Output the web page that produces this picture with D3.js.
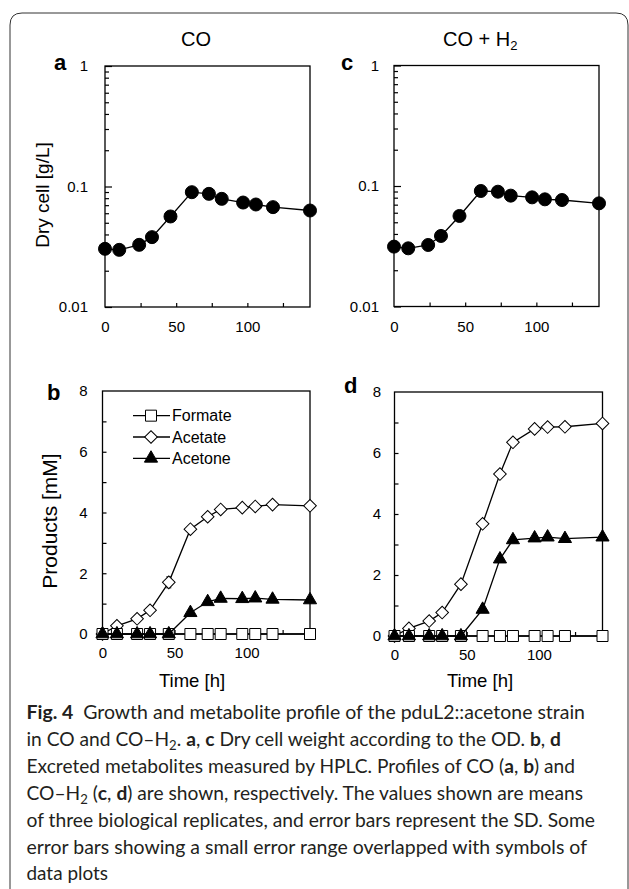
<!DOCTYPE html>
<html>
<head>
<meta charset="utf-8">
<script src="https://cdn.jsdelivr.net/npm/d3@7"></script>
<style>
  body { margin: 0; background: #fff; }
  svg { display: block; }
</style>
</head>
<body>
<svg id="fig" width="629" height="889"></svg>
<script>
// ---- data ----
const times = [0, 10, 24, 33, 46, 61, 73, 82, 97, 106, 118, 144];

const dryCellCO   = [0.0304, 0.0298, 0.0328, 0.038, 0.0564, 0.0897, 0.0869, 0.079, 0.0736, 0.0709, 0.0674, 0.0632];
const dryCellCOH2 = [0.0314, 0.0304, 0.0324, 0.0385, 0.0564, 0.0909, 0.0897, 0.0832, 0.0805, 0.0775, 0.0765, 0.0718];

const formateCO = [0, 0, 0, 0, 0, 0, 0, 0, 0, 0, 0, 0];
const acetateCO = [0, 0.27, 0.5, 0.78, 1.7, 3.45, 3.86, 4.1, 4.16, 4.2, 4.26, 4.22];
const acetoneCO = [0, 0, 0, 0, 0, 0.7, 1.06, 1.17, 1.16, 1.18, 1.14, 1.12];
const acetateErrCO = [0, 0.03, 0.05, 0.06, 0.18, 0.1, 0.08, 0.06, 0.05, 0.05, 0.06, 0.05];
const acetoneErrCO = [0, 0, 0, 0, 0, 0.05, 0.06, 0.05, 0.04, 0.05, 0.04, 0.05];

const formateCOH2 = [0, 0, 0, 0, 0, 0, 0, 0, 0, 0, 0, 0];
const acetateCOH2 = [0, 0.25, 0.49, 0.77, 1.7, 3.68, 5.31, 6.35, 6.79, 6.85, 6.86, 6.97];
const acetoneCOH2 = [0, 0, 0, 0, 0, 0.87, 2.52, 3.15, 3.21, 3.24, 3.19, 3.24];
const acetateErrCOH2 = [0, 0.03, 0.04, 0.05, 0.08, 0.1, 0.1, 0.08, 0.06, 0.06, 0.05, 0.06];
const acetoneErrCOH2 = [0, 0, 0, 0, 0, 0.06, 0.08, 0.06, 0.05, 0.05, 0.05, 0.05];

const timeTicks = [0, 50, 100];
const timeMinorTicks = [25, 50, 75, 100, 125];
const logTicks = [0.01, 0.1, 1];
const logTickLabels = ["0.01", "0.1", "1"];
const productTicks = [0, 2, 4, 6, 8];
const productMinorTicks = [1, 2, 3, 4, 5, 6, 7];
const legendNames = ["Formate", "Acetate", "Acetone"];

const captionLines = [
  [["Fig. 4", "b"], ["\u2002Growth and metabolite profile of the pduL2::acetone strain", ""]],
  [["in CO and CO\u2013H", ""], ["2", "sub"], [". ", ""], ["a", "b"], [", ", ""], ["c", "b"],
   [" Dry cell weight according to the OD. ", ""], ["b", "b"], [", ", ""], ["d", "b"]],
  [["Excreted metabolites measured by HPLC. Profiles of CO (", ""], ["a", "b"], [", ", ""], ["b", "b"], [") and", ""]],
  [["CO\u2013H", ""], ["2", "sub"], [" (", ""], ["c", "b"], [", ", ""], ["d", "b"],
   [") are shown, respectively. The values shown are means", ""]],
  [["of three biological replicates, and error bars represent the SD. Some", ""]],
  [["error bars showing a small error range overlapped with symbols of", ""]],
  [["data plots", ""]]
];
const captionEnds = [585, 561, 575, 583, 595, 587, 108];

// ---- drawing ----
const svg = d3.select("#fig");
const chartFont = "'Liberation Sans', Arial, sans-serif";

// frame
svg.append("path")
  .attr("d", "M10,889 V25 Q10,13 22,13 H616 Q628,13 628,25 V889")
  .attr("fill", "none")
  .attr("stroke", "#333")
  .attr("stroke-width", 1);

// scales
const xA = d3.scaleLinear().domain([0, 144]).range([105, 310]);
const xC = d3.scaleLinear().domain([0, 144]).range([394, 599]);
const xB = d3.scaleLinear().domain([0, 144]).range([102.5, 310]);
const xD = d3.scaleLinear().domain([0, 144]).range([394.5, 602.5]);
const yA = d3.scaleLog().domain([0.01, 1]).range([307, 66]);
const yC = d3.scaleLog().domain([0.01, 1]).range([306.5, 65.5]);
const yB = d3.scaleLinear().domain([0, 8]).range([634, 391]);
const yD = d3.scaleLinear().domain([0, 8]).range([636, 392]);

function box(x, y) {
  const [x0, x1] = x.range(), [y0, y1] = y.range();
  svg.append("rect")
    .attr("x", x0).attr("y", y1)
    .attr("width", x1 - x0).attr("height", y0 - y1)
    .attr("fill", "none").attr("stroke", "#000").attr("stroke-width", 1.3);
}

function styleAxis(g, size) {
  g.attr("font-family", chartFont).attr("font-size", size);
  g.select(".domain").remove();
  g.selectAll("line").attr("stroke", "#000").attr("stroke-width", 1.2);
  g.selectAll("text").attr("fill", "#000");
}

function xAxis(x, yPos, pad) {
  svg.append("g").attr("transform", `translate(0,${yPos})`)
    .call(d3.axisBottom(x).tickValues(timeMinorTicks).tickSize(-4).tickFormat(""))
    .call(g => styleAxis(g, 15));
  svg.append("g").attr("transform", `translate(0,${yPos})`)
    .call(d3.axisBottom(x).tickValues(timeTicks).tickSize(0).tickPadding(pad))
    .call(g => styleAxis(g, 15));
}

function logAxis(x, y, pad) {
  const xPos = x.range()[0];
  const minor = [];
  [0.01, 0.1].forEach(d => { for (let k = 2; k <= 9; k++) minor.push(d * k); });
  svg.append("g").attr("transform", `translate(${xPos},0)`)
    .call(d3.axisLeft(y).tickValues(minor).tickSize(-4).tickFormat(""))
    .call(g => styleAxis(g, 15));
  svg.append("g").attr("transform", `translate(${xPos},0)`)
    .call(d3.axisLeft(y).tickValues(logTicks).tickSize(-7).tickPadding(pad)
      .tickFormat((d, i) => logTickLabels[i]))
    .call(g => styleAxis(g, 15));
}

function linAxis(x, y, pad) {
  const xPos = x.range()[0];
  svg.append("g").attr("transform", `translate(${xPos},0)`)
    .call(d3.axisLeft(y).tickValues(productMinorTicks).tickSize(-4).tickFormat(""))
    .call(g => styleAxis(g, 15));
  svg.append("g").attr("transform", `translate(${xPos},0)`)
    .call(d3.axisLeft(y).tickValues(productTicks).tickSize(0).tickPadding(pad))
    .call(g => styleAxis(g, 15));
}

function seriesLine(x, y, vals) {
  svg.append("path")
    .datum(times.map((t, i) => [t, vals[i]]))
    .attr("fill", "none")
    .attr("stroke", "#000")
    .attr("stroke-width", 1.3)
    .attr("d", d3.line().x(d => x(d[0])).y(d => y(d[1])));
}

function errorBars(x, y, vals, errs) {
  const g = svg.append("g").attr("stroke", "#000").attr("stroke-width", 1);
  times.forEach((t, i) => {
    if (!errs[i]) return;
    const cx = x(t), top = y(vals[i] + errs[i]), bot = y(Math.max(0, vals[i] - errs[i]));
    g.append("line").attr("x1", cx).attr("x2", cx).attr("y1", top).attr("y2", bot);
    g.append("line").attr("x1", cx - 2.5).attr("x2", cx + 2.5).attr("y1", top).attr("y2", top);
    g.append("line").attr("x1", cx - 2.5).attr("x2", cx + 2.5).attr("y1", bot).attr("y2", bot);
  });
}

const markers = {
  circle: { sym: d3.symbolCircle, size: Math.PI * 6.5 * 6.5, fill: "#000", rot: 0 },
  square: { sym: d3.symbolSquare, size: 11 * 11, fill: "#fff", rot: 0 },
  diamond: { sym: d3.symbolSquare, size: 80, fill: "#fff", rot: 45 },
  triangle: { sym: d3.symbolTriangle, size: 75, fill: "#000", rot: 0 }
};

function drawMarkers(x, y, vals, kind) {
  const m = markers[kind];
  svg.append("g").selectAll("path")
    .data(times.map((t, i) => [t, vals[i]]))
    .join("path")
    .attr("transform", d => `translate(${x(d[0])},${y(d[1])}) rotate(${m.rot})`)
    .attr("d", d3.symbol().type(m.sym).size(m.size)())
    .attr("fill", m.fill)
    .attr("stroke", "#000")
    .attr("stroke-width", 1);
}

function series(x, y, vals, kind, errs) {
  seriesLine(x, y, vals);
  if (errs) errorBars(x, y, vals, errs);
  drawMarkers(x, y, vals, kind);
}

function label(txt, x, y, size, opts = {}) {
  const t = svg.append("text")
    .attr("x", x).attr("y", y)
    .attr("font-family", chartFont)
    .attr("font-size", size)
    .attr("text-anchor", opts.anchor || "middle")
    .attr("font-weight", opts.bold ? "bold" : "normal")
    .attr("fill", "#000");
  if (opts.rotate) t.attr("transform", `rotate(-90,${x},${y})`);
  t.text(txt);
  return t;
}

// panel a
xAxis(xA, 307, 14.5);
logAxis(xA, yA, 17);
box(xA, yA);
series(xA, yA, dryCellCO, "circle");

// panel c
xAxis(xC, 306.5, 14.5);
logAxis(xC, yC, 15);
box(xC, yC);
series(xC, yC, dryCellCOH2, "circle");

// panel b
xAxis(xB, 634, 13);
linAxis(xB, yB, 15);
box(xB, yB);
series(xB, yB, acetateCO, "diamond", acetateErrCO);
series(xB, yB, formateCO, "square");
series(xB, yB, acetoneCO, "triangle", acetoneErrCO);

// panel d
xAxis(xD, 636, 13);
linAxis(xD, yD, 13.5);
box(xD, yD);
series(xD, yD, acetateCOH2, "diamond", acetateErrCOH2);
series(xD, yD, formateCOH2, "square");
series(xD, yD, acetoneCOH2, "triangle", acetoneErrCOH2);

// legend (panel b)
const legendKinds = ["square", "diamond", "triangle"];
const legendRows = d3.scaleBand().domain(legendNames).range([405, 469]);
legendNames.forEach((name, i) => {
  const ly = legendRows(name) + legendRows.bandwidth() / 2;
  svg.append("line").attr("x1", 133).attr("x2", 170).attr("y1", ly).attr("y2", ly)
    .attr("stroke", "#000").attr("stroke-width", 1.3);
  const m = markers[legendKinds[i]];
  svg.append("path")
    .attr("transform", `translate(151,${ly}) rotate(${m.rot})`)
    .attr("d", d3.symbol().type(m.sym).size(m.size)())
    .attr("fill", m.fill).attr("stroke", "#000").attr("stroke-width", 1);
  label(name, 172, ly + 5.5, 16, { anchor: "start" });
});

// titles
label("CO", 196, 46, 20);
const t2 = label("CO + H", 443, 46, 20, { anchor: "start" });
t2.append("tspan").attr("dy", 4).attr("font-size", 13).text("2");

// panel letters
label("a", 54, 70, 22, { anchor: "start", bold: true });
label("c", 341, 70, 22, { anchor: "start", bold: true });
label("b", 47, 400, 22, { anchor: "start", bold: true });
label("d", 344, 393, 22, { anchor: "start", bold: true });

// axis titles
label("Dry cell [g/L]", 49, 195, 19, { rotate: true });
label("Products [mM]", 57, 521, 21, { rotate: true });
label("Time [h]", 192, 687, 18.5);
label("Time [h]", 480, 687, 18.5);

// caption
const capFont = "Lato, 'Noto Sans', sans-serif";
captionLines.forEach((segs, li) => {
  const t = svg.append("text")
    .attr("x", 26.5)
    .attr("y", 719 + li * 26.9)
    .attr("font-family", capFont)
    .attr("font-size", 19)
    .attr("fill", "#231f20")
    .style("white-space", "pre");
  let shifted = false;
  segs.forEach(([txt, kind]) => {
    const s = t.append("tspan").text(txt);
    if (kind === "b") s.attr("font-weight", "bold");
    if (kind === "sub") { s.attr("font-size", 13).attr("dy", 4); shifted = true; }
    else if (shifted) { s.attr("dy", -4); shifted = false; }
  });
  t.attr("textLength", captionEnds[li] - 26.5).attr("lengthAdjust", "spacingAndGlyphs");
});
</script>
</body>
</html>
